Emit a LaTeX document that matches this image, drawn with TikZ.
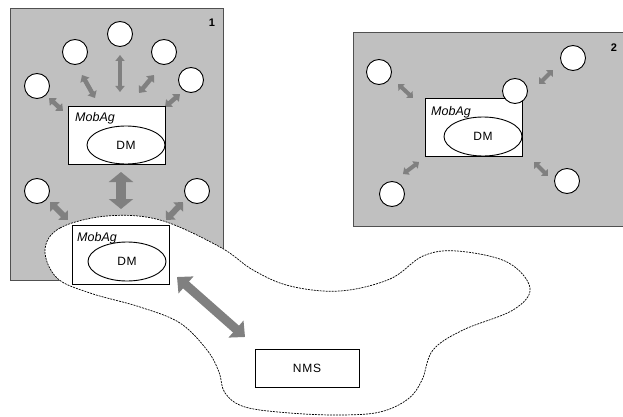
\documentclass[tikz,border=0pt]{standalone}
\usepackage{fontspec}
\setmainfont{Liberation Sans}
\usetikzlibrary{arrows.meta,shapes.geometric}
\definecolor{panelgray}{HTML}{C0C0C0}
\definecolor{arrowgray}{HTML}{808080}
\definecolor{edgegray}{HTML}{505050}
\tikzset{
  panel/.style={fill=panelgray, draw=edgegray, line width=1pt},
  peer/.style={circle, draw=black, fill=white, line width=0.9pt, minimum size=25pt, inner sep=0pt},
  agentbox/.style={rectangle, draw=black, fill=white, line width=0.9pt, minimum width=97pt, minimum height=58pt, inner sep=0pt},
  dmell/.style={ellipse, draw=black, fill=white, line width=0.9pt, minimum width=78pt, minimum height=38pt, inner sep=0pt, font=\fontsize{12}{14}\selectfont\addfontfeatures{LetterSpace=6}},
  mobtxt/.style={anchor=west, inner sep=0pt, font=\fontsize{12.5}{14}\selectfont\itshape},
  panellabel/.style={inner sep=0pt, font=\fontsize{11}{13}\selectfont\bfseries},
  garrow/.style args={#1/#2/#3}{draw=arrowgray, line width=#1pt, {Triangle[width=#2pt,length=#3pt]}-{Triangle[width=#2pt,length=#3pt]}},
  cloudline/.style={draw=black, fill=white, line width=0.7pt, dash pattern=on 2pt off 1pt}
}
\begin{document}
\begin{tikzpicture}[x=1pt,y=-1pt]
\useasboundingbox (0,0) rectangle (623,417);
% panels
\fill[white] (0,0) rectangle (623,417);
\draw[panel] (10,9) rectangle (223,280);
\fill[panelgray] (353,33) rectangle (623,226);
\draw[edgegray, line width=1pt] (623,33) -- (353,33) -- (353,226) -- (623,226);
\node[panellabel] (lab1) at (212,23) {1};
\node[panellabel] (lab2) at (614,48) {2};
% cloud
\draw[cloudline] plot[smooth cycle, tension=0.6] coordinates {
 (45,250) (60,228) (107,216) (160,220) (220,247) (253,270) (290,286) (340,291)
 (390,279) (423,256) (457,251) (507,262) (530,288) (513,310) (463,330) (433,350)
 (422,380) (408,399) (380,412) (340,415) (290,413) (245,407) (225,393) (219,372)
 (207,350) (180,323) (140,307) (90,293) (57,278)};
% arrow end coordinates
\coordinate (t1) at (120,55);  \coordinate (t2) at (120,92);
\coordinate (ul1) at (82,75);  \coordinate (ul2) at (95,98);
\coordinate (ur1) at (154,75); \coordinate (ur2) at (139,93);
\coordinate (l1) at (49,98);   \coordinate (l2) at (63,111);
\coordinate (r1) at (180,94);  \coordinate (r2) at (165,107);
\coordinate (v1) at (121,172); \coordinate (v2) at (121,209);
\coordinate (ll1) at (50,202); \coordinate (ll2) at (68,220);
\coordinate (lr1) at (183,202);\coordinate (lr2) at (166,220);
\coordinate (d1) at (177,277); \coordinate (d2) at (245,337);
\coordinate (pa1) at (398,84);  \coordinate (pa2) at (413,98);
\coordinate (pb1) at (553,70);  \coordinate (pb2) at (539,84);
\coordinate (pc1) at (403,174); \coordinate (pc2) at (419,162);
\coordinate (pd1) at (534,162); \coordinate (pd2) at (548,176);
% arrows
\draw[garrow=3.5/9/6] (t1) -- (t2);
\draw[garrow=4.5/10/6] (ul1) -- (ul2);
\draw[garrow=4.5/10/6] (ur1) -- (ur2);
\draw[garrow=4.5/10/6] (l1) -- (l2);
\draw[garrow=4.5/10/6] (r1) -- (r2);
\draw[garrow=10/24/10] (v1) -- (v2);
\draw[garrow=6/13/7] (ll1) -- (ll2);
\draw[garrow=6/13/7] (lr1) -- (lr2);
\draw[garrow=9/22/12] (d1) -- (d2);
\draw[garrow=4/9/5] (pa1) -- (pa2);
\draw[garrow=4/9/5] (pb1) -- (pb2);
\draw[garrow=4/9/5] (pc1) -- (pc2);
\draw[garrow=4/9/5] (pd1) -- (pd2);
% panel 1 peers
\node[peer] (c1) at (120,34) {};
\node[peer] (c2) at (75,52) {};
\node[peer] (c3) at (164,52) {};
\node[peer] (c4) at (37,86) {};
\node[peer] (c5) at (191,80) {};
\node[peer] (c6) at (37,191) {};
\node[peer] (c7) at (197,191) {};
% agent boxes
\node[agentbox] (box1) at (116.5,135) {};
\node[mobtxt] (mob1) at (75,118) {MobAg};
\node[dmell] (dm1) at (126,145) {DM};
\node[agentbox, minimum height=59pt] (box2) at (120.5,254.5) {};
\node[mobtxt] (mob2) at (77,238) {MobAg};
\node[dmell, minimum height=39pt] (dm2) at (127,261.5) {DM};
\node[agentbox] (box3) at (473.5,127) {};
\node[mobtxt] (mob3) at (431,112) {MobAg};
\node[dmell, minimum height=39pt] (dm3) at (483,136.5) {DM};
% panel 2 peers
\node[peer] (p1) at (379,72) {};
\node[peer] (p2) at (573,58) {};
\node[peer] (p3) at (515,91) {};
\node[peer] (p4) at (392,194) {};
\node[peer] (p5) at (567,181) {};
% NMS
\node[rectangle, draw=black, fill=white, line width=0.9pt, minimum width=104pt, minimum height=38pt, inner sep=0pt, font=\fontsize{12}{14}\selectfont\addfontfeatures{LetterSpace=6}] (nms) at (307,368) {NMS};
\end{tikzpicture}
\end{document}
